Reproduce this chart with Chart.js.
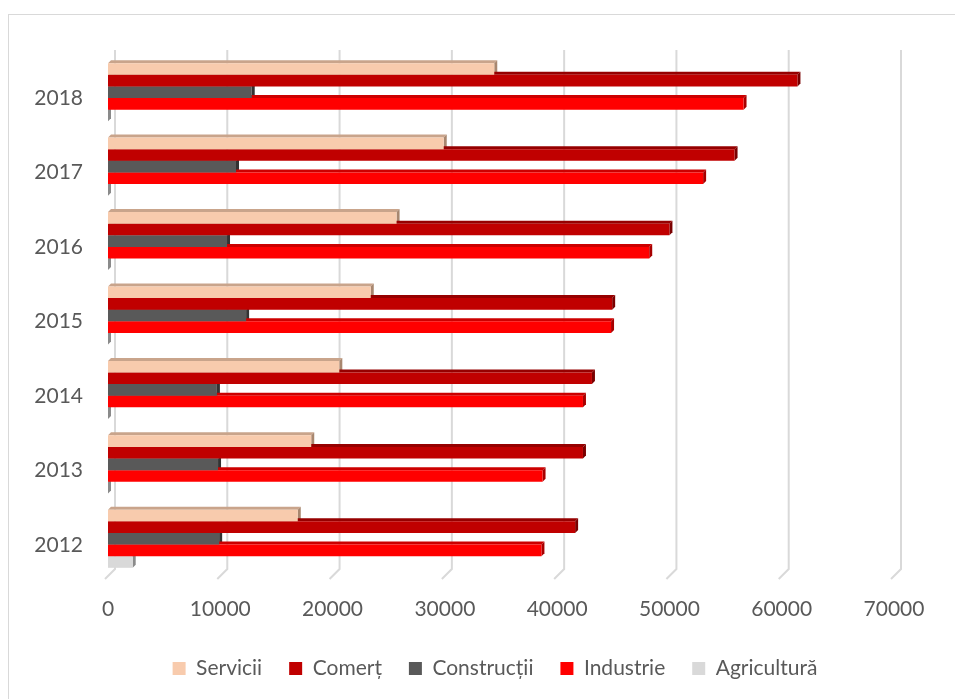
<!DOCTYPE html>
<html>
<head>
<meta charset="utf-8">
<script src="https://cdn.jsdelivr.net/npm/chart.js@4/dist/chart.umd.min.js"></script>
<style>
  html, body { margin: 0; padding: 0; background: #fff; }
  #wrap { position: relative; width: 955px; height: 699px; overflow: hidden; }
  #frame { position: absolute; left: 8px; top: 14px; width: 970px; height: 720px; border: 1px solid #d9d9d9; box-sizing: border-box; }
  #c { position: absolute; left: 0; top: 0; }
</style>
</head>
<body>
<div id="wrap">
  <div id="frame"></div>
  <canvas id="c" width="955" height="699"></canvas>
</div>
<script>
// values, years ascending
const years       = ["2012", "2013", "2014", "2015", "2016", "2017", "2018"];
const servicii    = [16900, 18100, 20600, 23400, 25700, 29900, 34400];
const comert      = [41600, 42300, 43100, 44900, 50000, 55800, 61400];
const constructii = [9900, 9800, 9700, 12300, 10600, 11400, 12800];
const industrie   = [38600, 38700, 42300, 44800, 48200, 53000, 56600];
const agricultura = [2200, 0, 0, 0, 0, 0, 0];
const xTicks      = [0, 10000, 20000, 30000, 40000, 50000, 60000, 70000];

// top row first on screen
const rev = (a) => a.slice().reverse();

const FONT = "Lato";
const GREY = "#595959";
const LEGEND_SHIFT = 48;

// fake Excel 3D look: back-wall gridlines + top/side faces of each bar
const depthPlugin = {
  id: "depth",
  afterLayout(chart) {
    // legend sits centred under the whole frame, not just the plot
    chart.legend.left += LEGEND_SHIFT;
    chart.legend.right += LEGEND_SHIFT;
  },
  beforeDatasetsDraw(chart) {
    const { ctx, chartArea: a, scales: { x } } = chart;
    ctx.save();
    ctx.strokeStyle = "#d9d9d9"; ctx.lineWidth = 2;
    xTicks.forEach(v => {
      const px = x.getPixelForValue(v) + 7;
      ctx.beginPath();
      ctx.moveTo(px, a.top - 5);
      ctx.lineTo(px, a.bottom - 7);
      ctx.lineTo(px - 10, a.bottom + 3);
      ctx.stroke();
    });
    const d = 3;
    chart.data.datasets.forEach((ds, i) => {
      chart.getDatasetMeta(i).data.forEach(bar => {
        const { x: ex, y, base, height } = bar.getProps(["x", "y", "base", "height"], true);
        const top = y - height / 2, bot = y + height / 2;
        ctx.fillStyle = ds.topColor;
        ctx.beginPath();
        ctx.moveTo(base, top); ctx.lineTo(base + d, top - d); ctx.lineTo(ex + d, top - d); ctx.lineTo(ex, top);
        ctx.closePath(); ctx.fill();
        ctx.fillStyle = ds.sideColor;
        ctx.beginPath();
        ctx.moveTo(ex, top); ctx.lineTo(ex + d, top - d); ctx.lineTo(ex + d, bot - d); ctx.lineTo(ex, bot);
        ctx.closePath(); ctx.fill();
      });
    });
    ctx.restore();
  }
};

const mk = (label, data, color, topColor, sideColor) => ({
  label, data: rev(data), backgroundColor: color, borderWidth: 0,
  topColor, sideColor, categoryPercentage: 0.78, barPercentage: 1
});

new Chart(document.getElementById("c"), {
  type: "bar",
  data: {
    labels: rev(years),
    datasets: [
      mk("Servicii", servicii, "#f8cbad", "#c9a48b", "#a8876f"),
      mk("Comerț", comert, "#c00000", "#960000", "#7a0000"),
      mk("Construcții", constructii, "#595959", "#444444", "#333333"),
      mk("Industrie", industrie, "#ff0000", "#cc0000", "#a80000"),
      mk("Agricultură", agricultura, "#d9d9d9", "#b5b5b5", "#8a8a8a")
    ]
  },
  options: {
    indexAxis: "y",
    responsive: false,
    animation: false,
    layout: { padding: { top: 55, left: 0, right: 61, bottom: 10 } },
    plugins: {
      tooltip: { enabled: false },
      legend: {
        position: "bottom",
        labels: {
          font: { family: FONT, size: 21 }, color: GREY,
          boxWidth: 13, boxHeight: 13, padding: 27
        }
      }
    },
    scales: {
      x: {
        min: 0, max: 70000,
        grid: { display: false }, border: { display: false },
        afterBuildTicks: (s) => { s.ticks = xTicks.map(v => ({ value: v })); },
        afterFit: (s) => { s.height = 55; },
        ticks: { font: { family: FONT, size: 21 }, color: GREY, padding: 13, maxRotation: 0,
                 callback: (v) => String(v) }
      },
      y: {
        grid: { display: false }, border: { display: false },
        afterFit: (s) => { s.width = 108; },
        ticks: { font: { family: FONT, size: 21 }, color: GREY, padding: 17, labelOffset: 6 }
      }
    }
  },
  plugins: [depthPlugin]
});
</script>
</body>
</html>
